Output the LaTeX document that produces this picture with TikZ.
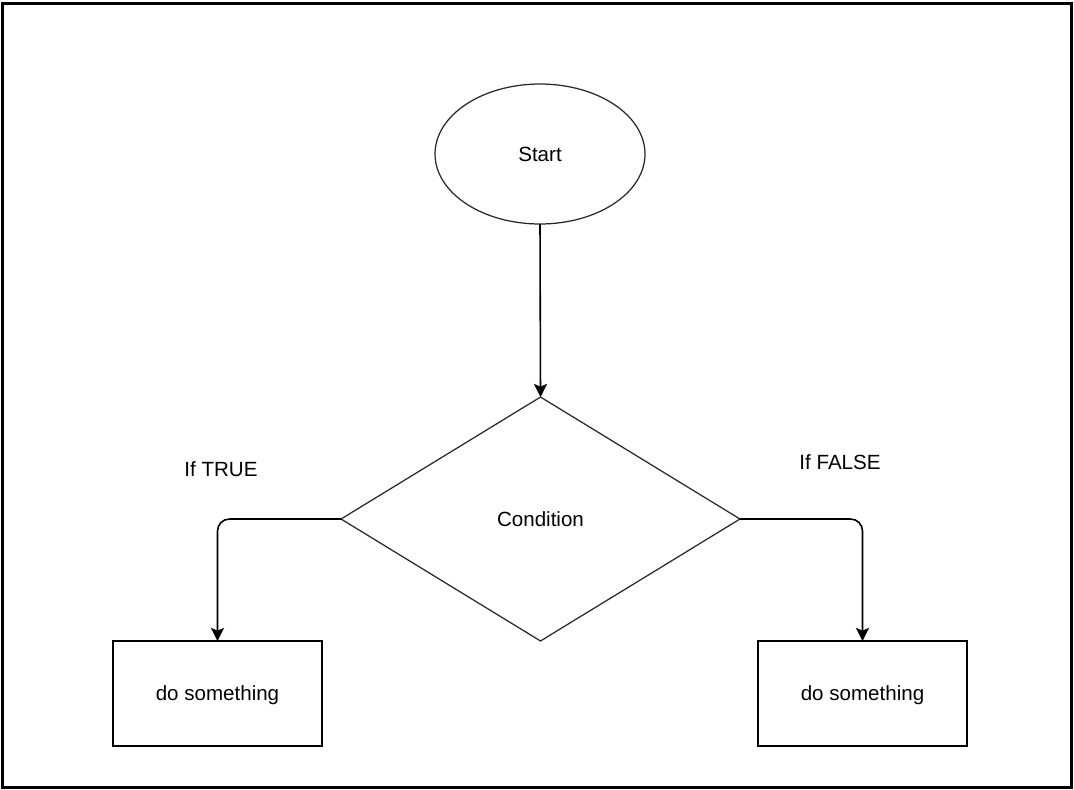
\documentclass[tikz,border=0pt]{standalone}
\usepackage{fontspec}
\setmainfont{Liberation Sans}
\usetikzlibrary{shapes.geometric,arrows.meta}
\begin{document}
\begin{tikzpicture}[x=0.02cm,y=-0.02cm,
  every node/.style={font=\fontsize{11.7pt}{14pt}\selectfont},
  shapeline/.style={draw=black!85,line width=0.7pt,inner sep=0pt,outer sep=0pt},
  startnode/.style={shapeline,ellipse,minimum width=4.2cm,minimum height=2.8cm},
  decision/.style={shapeline,diamond,minimum width=7.98cm,minimum height=4.88cm},
  action/.style={draw=black,line width=0.9pt,inner sep=0pt,outer sep=0pt,minimum width=4.18cm,minimum height=2.1cm,text depth=-1pt},
  flow/.style={draw=black,line width=0.9pt,-{Stealth[length=7.5pt,width=7.5pt,inset=1.6pt]}},
  label/.style={inner sep=0pt}]
  \useasboundingbox (0,0) rectangle (1074,789);
  % outer frame
  \draw[line width=1.7pt] (2.5,3) rectangle (1071.5,787);

  % shapes
  \node[startnode] (start) at (540,154) {Start};
  \node[decision] (cond) at (540.5,519) {Condition};
  \node[action] (left) at (217.5,693.5) {do something};
  \node[action] (right) at (862.5,693.5) {do something};

  % branch labels
  \node[label] (ltrue) at (221,469) {If TRUE};
  \node[label] (lfalse) at (840,462) {If FALSE};

  % connectors
  \draw[flow] (start.south) -- (cond.north);
  \draw[flow,rounded corners=0.24cm] (cond.west) -| (left.north);
  \draw[flow,rounded corners=0.24cm] (cond.east) -| (right.north);
\end{tikzpicture}
\end{document}
